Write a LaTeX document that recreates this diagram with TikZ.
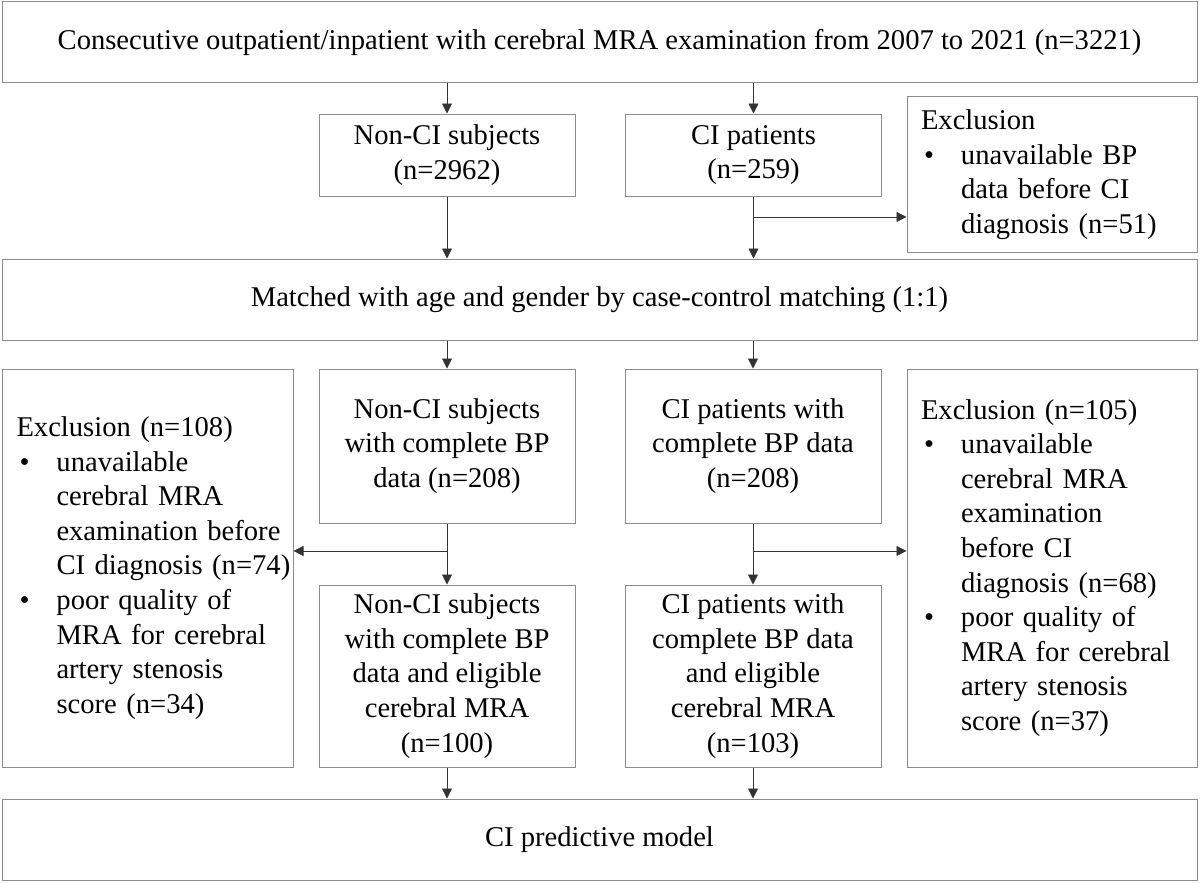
\documentclass[tikz,border=0pt]{standalone}
\usepackage{fontspec}
\setmainfont{Liberation Serif}
\usetikzlibrary{arrows.meta,calc}
\newcommand{\bitem}[1]{\mbox{\makebox[40pt][l]{\hspace{3pt}\textbullet}#1}}
\newcommand{\bcont}[1]{\mbox{\hspace*{40pt}#1}}
\tikzset{
  box/.style={draw=black!45, line width=1pt, inner sep=0pt, align=center,
    font=\fontsize{28.6pt}{34.6pt}\selectfont},
  wide/.style={box, minimum width=1195pt, minimum height=81pt},
  mid/.style={box, minimum width=256pt},
  excl/.style={box, align=left, text width=262pt, inner xsep=14pt, minimum width=290pt},
  arr/.style={-{Triangle[width=10pt,length=10pt]}, line width=0.8pt, black!80},
}
\begin{document}
\begin{tikzpicture}[x=1pt,y=-1pt]
  \useasboundingbox (0,0) rectangle (1200,883);
  % rows of boxes
  \node[wide] (cohort) at (599.5,42.5)
    {Consecutive outpatient/inpatient with cerebral MRA examination from 2007 to 2021 (n=3221)};
  \node[mid, minimum height=82pt] (nonci) at (447,155) {Non-CI subjects\\(n=2962)};
  \node[mid, minimum height=82pt] (ci) at (753.5,155) {CI patients\\(n=259)};
  \node[excl, minimum height=155pt] (exc1) at (1052,174.5)
    {Exclusion\\\bitem{unavailable BP}\\\bcont{data before CI}\\\bcont{diagnosis (n=51)}};
  \node[wide] (matched) at (599.5,299.5)
    {Matched with age and gender by case-control matching (1:1)};

  \node[excl, minimum width=291pt, minimum height=398pt] (excl) at (147.5,568)
    {Exclusion (n=108)\\\bitem{unavailable}\\\bcont{cerebral MRA}\\\bcont{examination before}\\
     \bcont{CI diagnosis (n=74)}\\\bitem{poor quality of}\\\bcont{MRA for cerebral}\\
     \bcont{artery stenosis}\\\bcont{score (n=34)}};
  \node[mid, minimum height=154pt] (noncia) at (447,446)
    {Non-CI subjects\\with complete BP\\data (n=208)};
  \node[mid, minimum height=154pt] (cia) at (753,446)
    {CI patients with\\complete BP data\\(n=208)};
  \node[excl, minimum height=398pt] (excr) at (1052,568)
    {Exclusion (n=105)\\\bitem{unavailable}\\\bcont{cerebral MRA}\\\bcont{examination}\\
     \bcont{before CI}\\\bcont{diagnosis (n=68)}\\\bitem{poor quality of}\\
     \bcont{MRA for cerebral}\\\bcont{artery stenosis}\\\bcont{score (n=37)}};
  \node[mid, minimum height=182pt] (noncib) at (447,676)
    {Non-CI subjects\\with complete BP\\data and eligible\\cerebral MRA\\(n=100)};
  \node[mid, minimum height=182pt] (cib) at (753,676)
    {CI patients with\\complete BP data\\and eligible\\cerebral MRA\\(n=103)};
  \node[wide] (final) at (599.5,839.5) {CI predictive model};

  % arrows
  \foreach \b in {nonci,ci}
    \draw[arr] (cohort.south -| \b.north) -- (\b.north);
  \foreach \b in {noncia,cia}
    \draw[arr] (matched.south -| \b.north) -- (\b.north);
  \foreach \a/\b in {nonci/matched,ci/matched,noncia/noncib,cia/cib,noncib/final,cib/final}
    \draw[arr] (\a.south) -- (\a.south |- \b.north);

  \coordinate (split1) at ($(ci.south)!0.33!(ci.south |- matched.north)$);
  \draw[arr] (split1) -- (split1 -| exc1.west);
  \coordinate (split2) at ($(noncia.south)!0.45!(noncib.north)$);
  \draw[arr] (split2) -- (split2 -| excl.east);
  \coordinate (split3) at ($(cia.south)!0.45!(cib.north)$);
  \draw[arr] (split3) -- (split3 -| excr.west);
\end{tikzpicture}
\end{document}
